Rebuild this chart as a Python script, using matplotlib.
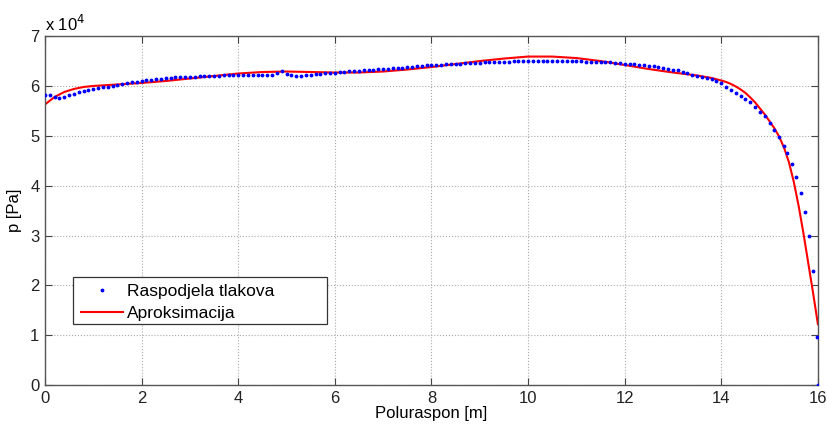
import matplotlib
matplotlib.use('Agg')
import matplotlib.pyplot as plt
from matplotlib.patches import Rectangle

# pressure distribution along the half-span, values in 1e4 Pa
span_pts = [0.0, 0.1, 0.2, 0.3, 0.4, 0.5, 0.6, 0.7, 0.8, 0.9,
            1.0, 1.1, 1.2, 1.3, 1.4, 1.5, 1.6, 1.7, 1.8, 1.9,
            2.0, 2.1, 2.2, 2.3, 2.4, 2.5, 2.6, 2.7, 2.8, 2.9,
            3.0, 3.1, 3.2, 3.3, 3.4, 3.5, 3.6, 3.7, 3.8, 3.9,
            4.0, 4.1, 4.2, 4.3, 4.4, 4.5, 4.6, 4.7, 4.8, 4.9,
            5.0, 5.1, 5.2, 5.3, 5.4, 5.5, 5.6, 5.7, 5.8, 5.9,
            6.0, 6.1, 6.2, 6.3, 6.4, 6.5, 6.6, 6.7, 6.8, 6.9,
            7.0, 7.1, 7.2, 7.3, 7.4, 7.5, 7.6, 7.7, 7.8, 7.9,
            8.0, 8.1, 8.2, 8.3, 8.4, 8.5, 8.6, 8.7, 8.8, 8.9,
            9.0, 9.1, 9.2, 9.3, 9.4, 9.5, 9.6, 9.7, 9.8, 9.9,
            10.0, 10.1, 10.2, 10.3, 10.4, 10.5, 10.6, 10.7, 10.8, 10.9,
            11.0, 11.1, 11.2, 11.3, 11.4, 11.5, 11.6, 11.7, 11.8, 11.9,
            12.0, 12.1, 12.2, 12.3, 12.4, 12.5, 12.6, 12.7, 12.8, 12.9,
            13.0, 13.1, 13.2, 13.3, 13.4, 13.5, 13.6, 13.7, 13.8, 13.9,
            14.0, 14.1, 14.2, 14.3, 14.4, 14.5, 14.6, 14.7, 14.8, 14.9,
            15.0, 15.1, 15.2, 15.3, 15.37, 15.46, 15.55, 15.64, 15.73,
            15.82, 15.9, 15.99, 16.0]
pressure = [5.82, 5.81, 5.77, 5.76, 5.78, 5.81, 5.84, 5.87, 5.89, 5.91,
            5.93, 5.95, 5.97, 5.98, 6.00, 6.02, 6.03, 6.05, 6.07, 6.08,
            6.10, 6.11, 6.12, 6.13, 6.14, 6.15, 6.16, 6.17, 6.17, 6.18,
            6.19, 6.19, 6.20, 6.20, 6.21, 6.21, 6.21, 6.22, 6.22, 6.22,
            6.22, 6.22, 6.22, 6.22, 6.22, 6.22, 6.22, 6.23, 6.26, 6.31,
            6.25, 6.22, 6.21, 6.21, 6.22, 6.23, 6.24, 6.25, 6.26, 6.27,
            6.27, 6.28, 6.29, 6.30, 6.31, 6.31, 6.32, 6.33, 6.33, 6.34,
            6.35, 6.35, 6.36, 6.37, 6.37, 6.38, 6.39, 6.40, 6.41, 6.42,
            6.42, 6.43, 6.43, 6.44, 6.44, 6.45, 6.45, 6.46, 6.46, 6.47,
            6.47, 6.48, 6.48, 6.48, 6.49, 6.49, 6.49, 6.50, 6.50, 6.50,
            6.50, 6.50, 6.50, 6.50, 6.50, 6.50, 6.50, 6.50, 6.50, 6.50,
            6.50, 6.50, 6.49, 6.49, 6.49, 6.49, 6.48, 6.48, 6.47, 6.46,
            6.45, 6.45, 6.44, 6.43, 6.42, 6.41, 6.40, 6.38, 6.37, 6.35,
            6.33, 6.32, 6.29, 6.26, 6.23, 6.21, 6.18, 6.16, 6.13, 6.09,
            6.05, 5.98, 5.92, 5.86, 5.79, 5.73, 5.67, 5.58, 5.48, 5.39,
            5.25, 5.12, 4.97, 4.80, 4.65, 4.44, 4.17, 3.86, 3.47,
            2.99, 2.29, 0.96, 0.0]

# fitted approximation curve
fit_span = [0.0, 0.2, 0.4, 0.6, 0.8, 1.0, 1.5, 2.0, 2.5, 3.0,
            3.5, 4.0, 4.5, 5.0, 5.5, 6.0, 6.5, 7.0, 7.5, 8.0,
            8.5, 9.0, 9.5, 10.0, 10.5, 11.0, 11.5, 12.0, 12.5, 13.0,
            13.5, 13.8, 14.0, 14.1, 14.2, 14.3, 14.4, 14.5, 14.6, 14.7,
            14.8, 14.9, 15.0, 15.1, 15.2, 15.3, 15.4, 15.5, 15.6, 15.7,
            15.8, 15.9, 16.0]
fit_pressure = [5.63, 5.78, 5.88, 5.94, 5.98, 6.00, 6.03, 6.06, 6.10, 6.15,
                6.20, 6.25, 6.28, 6.29, 6.28, 6.27, 6.27, 6.29, 6.33, 6.38,
                6.44, 6.50, 6.55, 6.59, 6.59, 6.56, 6.50, 6.42, 6.34, 6.27,
                6.21, 6.16, 6.11, 6.08, 6.04, 5.99, 5.93, 5.86, 5.77, 5.67,
                5.55, 5.43, 5.29, 5.15, 4.98, 4.76, 4.47, 4.08, 3.60, 3.05,
                2.45, 1.85, 1.22]


def main():
    ''' main '''
    plt.rcParams['font.family'] = ['Liberation Sans', 'DejaVu Sans']
    plt.rcParams['font.size'] = 12

    fig = plt.figure(figsize=(8.27, 4.25), dpi=100)
    ax = fig.add_axes([0.0544, 0.094, 0.9346, 0.821])

    ax.plot(span_pts, pressure, '.', color='#0000ff', markersize=3.5,
            label='Raspodjela tlakova', zorder=3)
    ax.plot(fit_span, fit_pressure, '-', color='#ff0000', linewidth=1.5,
            label='Aproksimacija', zorder=2)

    ax.set_xlim(0, 16)
    ax.set_ylim(0, 7)
    ax.set_xticks(range(0, 17, 2))
    ax.set_yticks(range(0, 8))
    ax.grid(True, linestyle=':', color='#aaaaaa', linewidth=0.8)
    ax.tick_params(direction='in', length=5, colors='#444444',
                   labelcolor='#222222', labelsize=12, top=True, right=True,
                   pad=4)
    for sp in ax.spines.values():
        sp.set_color('#555555')
        sp.set_linewidth(1.0)

    ax.set_xlabel('Poluraspon [m]', fontsize=12, labelpad=0)
    ax.set_ylabel('p [Pa]', fontsize=12, labelpad=6)
    ax.text(0.0, 1.005, r'x 10$^4$', transform=ax.transAxes, fontsize=12,
            ha='left', va='bottom')

    # MATLAB-style legend box, wider than its text
    box = Rectangle((0.0366, 0.1748), 0.3286, 0.1338, transform=ax.transAxes,
                    facecolor='white', edgecolor='#333333', linewidth=0.9,
                    zorder=4)
    ax.add_patch(box)
    leg = ax.legend(loc='upper left', bbox_to_anchor=(0.0466, 0.291),
                    fontsize=12.5, frameon=False, borderpad=0,
                    handlelength=2.4, labelspacing=0.4, handletextpad=0.25,
                    borderaxespad=0, markerscale=1.0)
    leg.set_zorder(5)

    fig.savefig('out.png', dpi=100)


if __name__ == '__main__':
    main()
